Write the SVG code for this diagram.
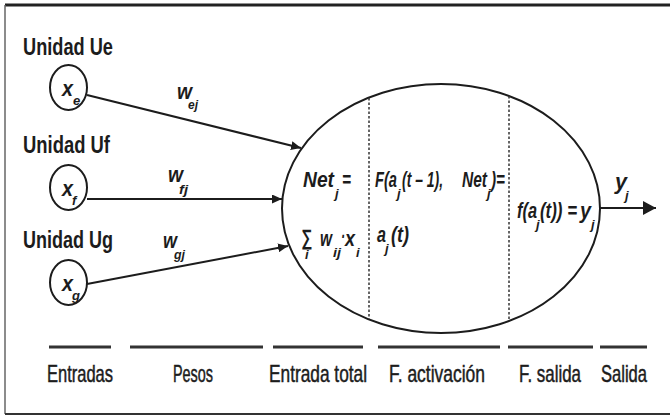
<svg xmlns="http://www.w3.org/2000/svg" width="670" height="418" viewBox="0 0 670 418">
<style>
.t{font-family:"Liberation Sans","DejaVu Sans",Arial,sans-serif;fill:#1c1c1c}
.lab{font-size:24px;font-weight:bold}
.leg{font-size:24px;stroke:#1c1c1c;stroke-width:0.5}
.m{font-style:italic;font-size:22px;font-weight:bold}
.s{font-style:italic;font-size:13px;font-weight:bold}
.ln{stroke:#1c1c1c;stroke-width:2;fill:none}
.dash{stroke:#333;stroke-width:1.5;stroke-dasharray:2.5 2;fill:none}
.bar{stroke:#333;stroke-width:3}
</style>
<defs>
<marker id="ah" markerUnits="userSpaceOnUse" markerWidth="10" markerHeight="9" refX="10" refY="4.5" orient="auto">
<path d="M0,0 L10,4.5 L0,9 Z" fill="#1c1c1c"/>
</marker>
<marker id="ahb" markerUnits="userSpaceOnUse" markerWidth="13" markerHeight="14" refX="13" refY="7" orient="auto">
<path d="M0,0 L13,7 L0,14 Z" fill="#1c1c1c"/>
</marker>
</defs>
<rect width="670" height="418" fill="#fff"/>
<g id="frame">
<line x1="5" y1="5" x2="670" y2="5" stroke="#222" stroke-width="3"/>
<line x1="5" y1="5" x2="5" y2="414" stroke="#666" stroke-width="1.5"/>
<line x1="5" y1="414" x2="670" y2="414" stroke="#333" stroke-width="2"/>
</g>
<g id="unit-ue">
<text class="t lab" x="23" y="55" textLength="90" lengthAdjust="spacingAndGlyphs">Unidad Ue</text>
<ellipse class="ln" cx="68.5" cy="87.5" rx="18.5" ry="22.5"/>
<text class="t m" x="62" y="96" textLength="11" lengthAdjust="spacingAndGlyphs">x</text>
<text class="t s" x="73" y="105">e</text>
</g>
<g id="unit-uf">
<text class="t lab" x="23" y="153" textLength="87" lengthAdjust="spacingAndGlyphs">Unidad Uf</text>
<ellipse class="ln" cx="68.5" cy="187.5" rx="18.5" ry="22.5"/>
<text class="t m" x="62" y="196" textLength="11" lengthAdjust="spacingAndGlyphs">x</text>
<text class="t s" x="72" y="205">f</text>
</g>
<g id="unit-ug">
<text class="t lab" x="23" y="248" textLength="90" lengthAdjust="spacingAndGlyphs">Unidad Ug</text>
<ellipse class="ln" cx="68.5" cy="282.5" rx="18.5" ry="22.5"/>
<text class="t m" x="62" y="291" textLength="11" lengthAdjust="spacingAndGlyphs">x</text>
<text class="t s" x="72" y="300">g</text>
</g>
<g id="connectors">
<line class="ln" x1="87" y1="95" x2="301" y2="148" marker-end="url(#ah)"/>
<line class="ln" x1="87" y1="199" x2="282" y2="199" marker-end="url(#ah)"/>
<line class="ln" x1="87" y1="284" x2="288" y2="246" marker-end="url(#ah)"/>
<line class="ln" x1="600" y1="208" x2="656" y2="208" marker-end="url(#ahb)"/>
</g>
<g id="weights">
<text class="t m" x="177" y="99" textLength="15" lengthAdjust="spacingAndGlyphs">w</text>
<text class="t s" x="188" y="109" textLength="10" lengthAdjust="spacingAndGlyphs">ej</text>
<text class="t m" x="168" y="182" textLength="15" lengthAdjust="spacingAndGlyphs">w</text>
<text class="t s" x="179" y="194" textLength="9" lengthAdjust="spacingAndGlyphs">fj</text>
<text class="t m" x="163" y="248" textLength="14" lengthAdjust="spacingAndGlyphs">w</text>
<text class="t s" x="174" y="259" textLength="11" lengthAdjust="spacingAndGlyphs">gj</text>
</g>
<g id="neuron">
<ellipse class="ln" cx="441" cy="208.5" rx="159" ry="124.5"/>
<line class="dash" x1="369" y1="98" x2="369" y2="319"/>
<line class="dash" x1="509" y1="96" x2="509" y2="321"/>
<text class="t m" x="303" y="187" textLength="31" lengthAdjust="spacingAndGlyphs">Net</text>
<text class="t s" x="335" y="198">j</text>
<text class="t m" x="342" y="187" textLength="9" lengthAdjust="spacingAndGlyphs">=</text>
<text class="t m" x="301" y="245" font-size="17" textLength="11" lengthAdjust="spacingAndGlyphs">∑</text>
<text class="t s" x="305" y="259" font-size="12">i</text>
<text class="t m" x="320" y="246" textLength="12" lengthAdjust="spacingAndGlyphs">w</text>
<text class="t s" x="333" y="257" textLength="8" lengthAdjust="spacingAndGlyphs">ij</text>
<text class="t m" x="341" y="244" textLength="4" lengthAdjust="spacingAndGlyphs">·</text>
<text class="t m" x="345" y="246" textLength="10" lengthAdjust="spacingAndGlyphs">x</text>
<text class="t s" x="356" y="257">i</text>
<text class="t m" x="375" y="187" textLength="22" lengthAdjust="spacingAndGlyphs">F(a</text>
<text class="t s" x="397" y="198">j</text>
<text class="t m" x="402" y="187" textLength="41" lengthAdjust="spacingAndGlyphs">(t – 1),</text>
<text class="t m" x="462" y="187" textLength="25" lengthAdjust="spacingAndGlyphs">Net</text>
<text class="t s" x="487" y="198">j</text>
<text class="t m" x="491" y="187" textLength="14" lengthAdjust="spacingAndGlyphs">)=</text>
<text class="t m" x="377" y="242" textLength="9" lengthAdjust="spacingAndGlyphs">a</text>
<text class="t s" x="385" y="253">j</text>
<text class="t m" x="391" y="242" textLength="18" lengthAdjust="spacingAndGlyphs">(t)</text>
<text class="t m" x="517" y="218" textLength="20" lengthAdjust="spacingAndGlyphs">f(a</text>
<text class="t s" x="536" y="229">j</text>
<text class="t m" x="540" y="218" textLength="37" lengthAdjust="spacingAndGlyphs">(t)) =</text>
<text class="t m" x="580" y="218" textLength="11" lengthAdjust="spacingAndGlyphs">y</text>
<text class="t s" x="591" y="229">j</text>
</g>
<g id="output">
<text class="t m" x="615" y="189" textLength="12" lengthAdjust="spacingAndGlyphs">y</text>
<text class="t s" x="625" y="200">j</text>
</g>
<g id="legend">
<line class="bar" x1="49" y1="347" x2="111" y2="347"/>
<line class="bar" x1="130" y1="347" x2="263" y2="347"/>
<line class="bar" x1="273" y1="347" x2="363" y2="347"/>
<line class="bar" x1="378" y1="347" x2="500" y2="347"/>
<line class="bar" x1="508" y1="347" x2="593" y2="347"/>
<line class="bar" x1="600" y1="347" x2="647" y2="347"/>
<text class="t leg" x="47" y="382" textLength="66" lengthAdjust="spacingAndGlyphs">Entradas</text>
<text class="t leg" x="173" y="382" textLength="40" lengthAdjust="spacingAndGlyphs">Pesos</text>
<text class="t leg" x="269" y="382" textLength="98" lengthAdjust="spacingAndGlyphs">Entrada total</text>
<text class="t leg" x="389" y="382" textLength="96" lengthAdjust="spacingAndGlyphs">F. activación</text>
<text class="t leg" x="519" y="382" textLength="62" lengthAdjust="spacingAndGlyphs">F. salida</text>
<text class="t leg" x="601" y="382" textLength="46" lengthAdjust="spacingAndGlyphs">Salida</text>
</g>
</svg>
